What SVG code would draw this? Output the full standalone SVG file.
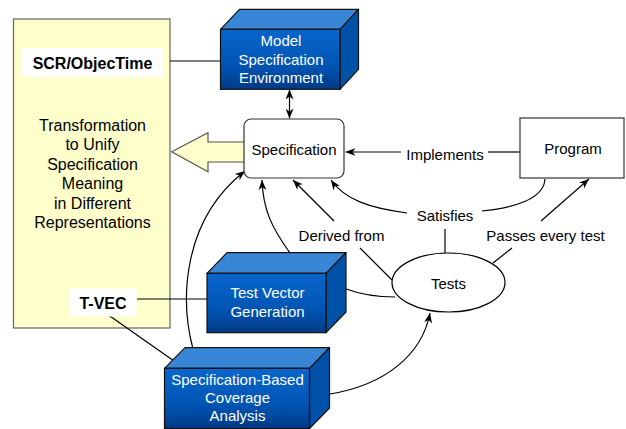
<svg xmlns="http://www.w3.org/2000/svg" width="626" height="429" viewBox="0 0 626 429">
  <defs>
    <linearGradient id="frontGrad" x1="0" y1="0" x2="0" y2="1">
      <stop offset="0" stop-color="#0A66CC"/>
      <stop offset="0.6" stop-color="#0055B4"/>
      <stop offset="1" stop-color="#003A86"/>
    </linearGradient>
    <marker id="arrow" viewBox="0 0 10 8" refX="10" refY="4" markerWidth="11" markerHeight="8" markerUnits="userSpaceOnUse" orient="auto-start-reverse">
      <path d="M0,0 L10,4 L0,8 L3,4 z" fill="#000"/>
    </marker>
    <style>
      .txt { font-family: "Liberation Sans", Arial, sans-serif; font-size: 15px; fill: #000; text-anchor: middle; }
      .ytxt { font-family: "Liberation Sans", Arial, sans-serif; font-size: 16px; fill: #000; text-anchor: middle; }
      .wtxt { font-family: "Liberation Sans", Arial, sans-serif; font-size: 15px; fill: #fff; text-anchor: middle; }
      .btxt { font-family: "Liberation Sans", Arial, sans-serif; font-size: 16px; font-weight: bold; fill: #000; text-anchor: middle; }
      .conn { fill: none; stroke: #000; stroke-width: 1.2; }
      .arr { marker-end: url(#arrow); }
      .front { fill: url(#frontGrad); stroke: #111; stroke-width: 1.2; }
      .top { fill: #3A86D6; stroke: #111; stroke-width: 1.2; stroke-linejoin: round; }
      .side { fill: #0052A8; stroke: #111; stroke-width: 1.2; stroke-linejoin: round; }
      .label { fill: #fff; stroke: none; }
    </style>
  </defs>

  <!-- transformation panel -->
  <g id="transformation">
    <rect x="13.5" y="19" width="156.5" height="309" fill="#FFFFCC" stroke="#666" stroke-width="1.2"/>
    <text class="ytxt" x="92.5" y="130.5">Transformation</text>
    <text class="ytxt" x="92.5" y="150">to Unify</text>
    <text class="ytxt" x="92.5" y="169.5">Specification</text>
    <text class="ytxt" x="92.5" y="189">Meaning</text>
    <text class="ytxt" x="92.5" y="208.5">in Different</text>
    <text class="ytxt" x="92.5" y="228">Representations</text>
  </g>

  <!-- block arrow from Specification to the panel -->
  <g id="unify-arrow">
    <polygon points="171.7,151.7 208,132.7 208,142 248,142 248,162 208,162 208,171.7" fill="#FFFFCC" stroke="#555" stroke-width="1.2"/>
  </g>

  <!-- connectors -->
  <g id="connectors">
    <path class="conn" d="M170,61 L221,61"/>
    <path class="conn" d="M137,299 L207,299"/>
    <path class="conn" d="M107,314 L174,361"/>
    <path class="conn" d="M289.5,89.5 L289.5,118.5" marker-start="url(#arrow)" marker-end="url(#arrow)"/>
    <path class="conn" d="M520,152 L488,152"/>
    <path class="conn arr" d="M401,152 L345.5,152"/>
    <path class="conn" d="M545,179 C544,197 520,207 482,211"/>
    <path class="conn arr" d="M407,213 C370,208 345,200 331,180"/>
    <path class="conn" d="M445,229 L445,253"/>
    <path class="conn" d="M493,263 L512,248"/>
    <path class="conn arr" d="M541,221 L589,179"/>
    <path class="conn arr" d="M334,221 L293,180"/>
    <path class="conn" d="M360,248 L392,280"/>
    <path class="conn arr" d="M290,253 C272,228 263,210 262,180"/>
    <path class="conn arr" d="M193,349 C180,300 182,220 245,171"/>
    <path class="conn" d="M346,289 Q368,297 395,297"/>
    <path class="conn arr" d="M330,394 C385,385 422,355 430,313"/>
  </g>

  <!-- labels on connectors -->
  <g id="connector-labels">
    <text class="txt" x="445" y="159.5">Implements</text>
    <text class="txt" x="445" y="221">Satisfies</text>
    <text class="txt" x="341.5" y="240.5">Derived from</text>
    <text class="txt" x="545.5" y="240.5">Passes every test</text>
  </g>

  <!-- tool labels -->
  <g id="scr-objectime">
    <rect class="label" x="22" y="48" width="141" height="29"/>
    <text class="btxt" x="92.5" y="68.5">SCR/ObjecTime</text>
  </g>
  <g id="t-vec">
    <rect class="label" x="69.5" y="288.5" width="67" height="28"/>
    <text class="btxt" x="103" y="309">T-VEC</text>
  </g>

  <!-- Model Specification Environment -->
  <g id="model-spec-env">
    <polygon class="top" points="220.5,29.3 239.5,9.3 358.5,9.3 340,29.3"/>
    <polygon class="side" points="340,29.3 358.5,9.3 358.5,69.3 340,89.3"/>
    <rect class="front" x="220.5" y="29.3" width="119.5" height="60"/>
    <text class="wtxt" x="281" y="46">Model</text>
    <text class="wtxt" x="281" y="64.5">Specification</text>
    <text class="wtxt" x="281" y="83">Environment</text>
  </g>

  <!-- Specification -->
  <g id="specification">
    <rect x="244" y="119" width="100" height="59" rx="7" fill="#fff" stroke="#333" stroke-width="1.2"/>
    <text class="txt" x="294" y="154.5">Specification</text>
  </g>

  <!-- Program -->
  <g id="program">
    <rect x="520" y="118" width="104" height="60" fill="#fff" stroke="#333" stroke-width="1.2"/>
    <text class="txt" x="573" y="154">Program</text>
  </g>

  <!-- Tests -->
  <g id="tests">
    <ellipse cx="448.5" cy="282.5" rx="56.5" ry="29.5" fill="#fff" stroke="#000" stroke-width="1.2"/>
    <text class="txt" x="448.5" y="289">Tests</text>
  </g>

  <!-- Test Vector Generation -->
  <g id="test-vector-gen">
    <polygon class="top" points="207,273.3 227,252.7 346,252.7 326,273.3"/>
    <polygon class="side" points="326,273.3 346,252.7 346,312 326,332.7"/>
    <rect class="front" x="207" y="273.3" width="119" height="59.4"/>
    <text class="wtxt" x="267.5" y="297.5">Test Vector</text>
    <text class="wtxt" x="267.5" y="316.5">Generation</text>
  </g>

  <!-- Specification-Based Coverage Analysis -->
  <g id="spec-coverage">
    <polygon class="top" points="164.5,368.3 185,347.7 329.5,347.7 309.5,368.3"/>
    <polygon class="side" points="309.5,368.3 329.5,347.7 329.5,408 309.5,428.5"/>
    <rect class="front" x="164.5" y="368.3" width="145" height="60.2"/>
    <text class="wtxt" x="237.5" y="384.5">Specification-Based</text>
    <text class="wtxt" x="237.5" y="402.5">Coverage</text>
    <text class="wtxt" x="237.5" y="420.5">Analysis</text>
  </g>
</svg>
